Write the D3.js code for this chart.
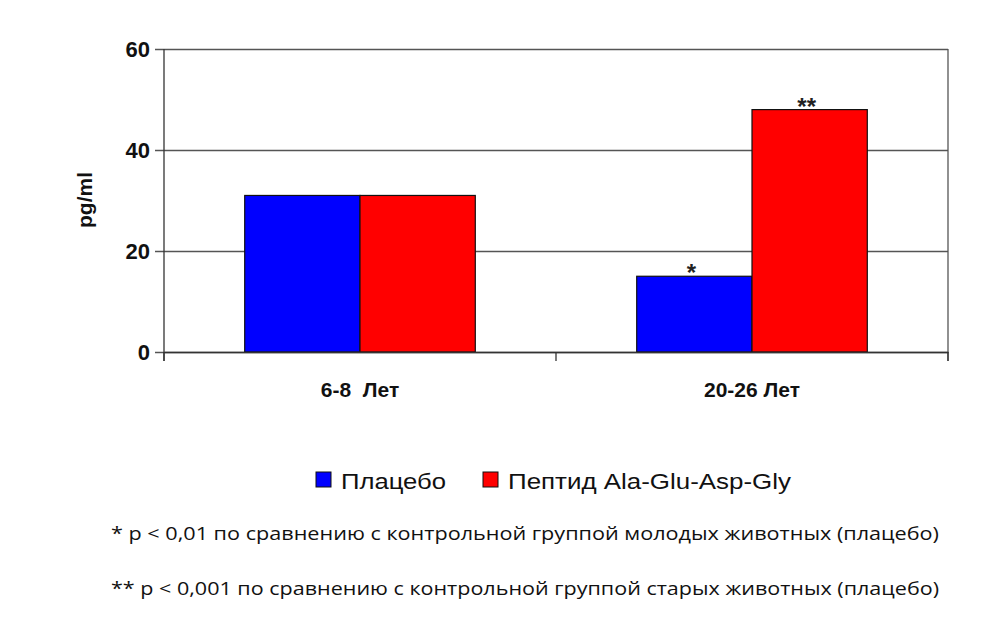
<!DOCTYPE html>
<html><head><meta charset="utf-8">
<script src="https://cdn.jsdelivr.net/npm/d3@7"></script>
<style>body{margin:0;background:#fff}svg text{font-family:Arial,"Liberation Sans",sans-serif}</style>
</head><body><div id="chart"></div>
<script>
const CATEGORIES = ["6-8  Лет", "20-26 Лет"];
const SERIES = ["Плацебо", "Пептид Ala-Glu-Asp-Gly"];
const PLACEBO = [31, 15];
const PEPTIDE = [31, 48];
const MARKS = [["", ""], ["*", "**"]]; // [category][series]
const Y_TICKS = [0, 20, 40, 60];
const COLORS = ["#0000ff", "#ff0000"];

const WIDTH = 1000, HEIGHT = 629;
const MARGIN = {left: 164, right: 52, top: 49, bottom: 277};
const VIEW_W = WIDTH - MARGIN.left - MARGIN.right;
const VIEW_H = HEIGHT - MARGIN.top - MARGIN.bottom;

const svg = d3.select("#chart").append("svg").attr("width", WIDTH).attr("height", HEIGHT);
const g = svg.append("g").attr("transform", `translate(${MARGIN.left},${MARGIN.top})`);

const x = d3.scaleBand().domain(CATEGORIES).range([0, VIEW_W]).paddingInner(0).paddingOuter(0);
const xs = d3.scaleBand().domain(SERIES).range([0, x.bandwidth()]).paddingInner(0).paddingOuter(0.7);
const y = d3.scaleLinear().domain([0, 60]).range([VIEW_H, 0]);

// grid + left axis
g.append("g").call(d3.axisLeft(y).tickValues(Y_TICKS).tickSize(-VIEW_W).tickPadding(14).tickFormat(d3.format("d")))
  .call(a => a.select(".domain").remove())
  .call(a => a.selectAll("line").attr("stroke", "#555").attr("stroke-width", 1.3).attr("x1", -9))
  .call(a => a.selectAll("text").attr("font-size", 22).attr("font-weight", "bold").attr("fill", "#111"));
g.append("line").attr("x1", 0).attr("x2", 0).attr("y1", 0).attr("y2", VIEW_H + 9).attr("stroke", "#333").attr("stroke-width", 1.3);
g.append("line").attr("x1", VIEW_W).attr("x2", VIEW_W).attr("y1", 0).attr("y2", VIEW_H + 9).attr("stroke", "#555").attr("stroke-width", 1.3);

const rows = CATEGORIES.map((c, i) => ({c, vals: [PLACEBO[i], PEPTIDE[i]], marks: MARKS[i]}));
const grp = g.selectAll(".grp").data(rows).join("g").attr("transform", d => `translate(${x(d.c)},0)`);
grp.selectAll("rect").data(d => d.vals.map((v, j) => ({s: SERIES[j], v, j}))).join("rect")
  .attr("x", d => xs(d.s)).attr("width", xs.bandwidth())
  .attr("y", d => y(d.v)).attr("height", d => VIEW_H - y(d.v))
  .attr("fill", d => COLORS[d.j]).attr("stroke", "#111").attr("stroke-width", 1.2);
grp.selectAll("text.mark").data(d => d.vals.map((v, j) => ({s: SERIES[j], v, m: d.marks[j]}))).join("text")
  .attr("class", "mark").attr("x", d => xs(d.s) + xs.bandwidth() / 2 - 3).attr("y", d => y(d.v) + 5)
  .attr("text-anchor", "middle").attr("font-size", 24).attr("font-weight", "bold").attr("fill", "#222").text(d => d.m);

// x axis
g.append("g").attr("transform", `translate(0,${VIEW_H})`)
  .call(d3.axisBottom(x).tickSize(0).tickPadding(30))
  .call(a => a.select(".domain").attr("stroke", "#333").attr("stroke-width", 1.3))
  .call(a => a.selectAll("text").attr("font-size", 21).attr("font-weight", "bold").attr("fill", "#111").style("white-space", "pre"));
[0, x.bandwidth(), VIEW_W].forEach(px => g.append("line").attr("x1", px).attr("x2", px)
  .attr("y1", VIEW_H).attr("y2", VIEW_H + 9).attr("stroke", "#333").attr("stroke-width", 1.3));

svg.append("text").attr("transform", "translate(92,200) rotate(-90)").attr("text-anchor", "middle")
  .attr("font-size", 21).attr("font-weight", "bold").attr("fill", "#111").text("pg/ml");

// legend
const legX = [316, 483];
const legW = [105, 283];
SERIES.forEach((s, i) => {
  svg.append("rect").attr("x", legX[i]).attr("y", 472).attr("width", 15).attr("height", 15)
    .attr("fill", COLORS[i]).attr("stroke", "#111");
  svg.append("text").attr("x", legX[i] + 25).attr("y", 489).attr("font-size", 22).attr("fill", "#111")
    .attr("textLength", legW[i]).attr("lengthAdjust", "spacingAndGlyphs").text(s);
});

const NOTES = ["* р < 0,01 по сравнению с контрольной группой молодых животных (плацебо)",
  "** р < 0,001 по сравнению с контрольной группой старых животных (плацебо)"];
const NOTE_W = [828, 828];
NOTES.forEach((t, i) => svg.append("text").attr("x", 111).attr("y", 540 + i * 55)
  .attr("font-size", 19).attr("fill", "#111").style("font-family", "'Open Sans',sans-serif")
  .attr("textLength", NOTE_W[i]).attr("lengthAdjust", "spacingAndGlyphs").text(t));
</script></body></html>
